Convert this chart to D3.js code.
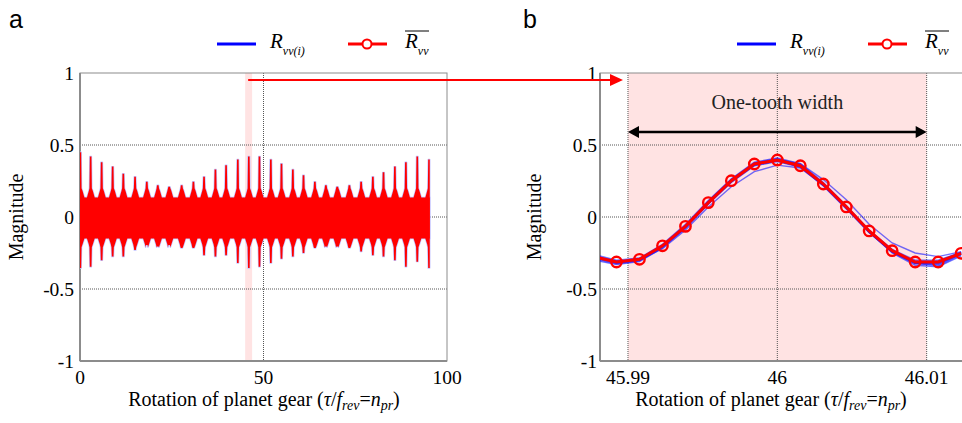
<!DOCTYPE html>
<html>
<head>
<meta charset="utf-8">
<script src="https://cdn.jsdelivr.net/npm/d3@7"></script>
<style>
  body { margin: 0; background: #fff; }
  svg { display: block; }
  text { font-family: "Liberation Serif", "Times New Roman", serif; fill: #000; }
</style>
</head>
<body>
<div id="chart"></div>
<script>
// ---- data ----
// panel a: tooth-mesh spikes of the averaged signal
const spikeX = [0.1, 2.9, 5.9, 8.9, 11.8, 15.0, 18.2, 21.2, 24.3, 27.7, 30.9, 33.8, 36.9, 39.8, 43.0, 46.0,
  48.9, 52.0, 54.9, 58.0, 60.9, 64.0, 67.0, 70.1, 73.4, 76.6, 79.8, 82.7, 85.8, 88.8, 91.9, 95.1];
const spikeTop = [0.45, 0.42, 0.38, 0.35, 0.30, 0.28, 0.245, 0.22, 0.21, 0.22, 0.245, 0.28, 0.33, 0.36, 0.40, 0.42,
  0.42, 0.40, 0.37, 0.33, 0.29, 0.245, 0.22, 0.21, 0.22, 0.245, 0.28, 0.31, 0.35, 0.38, 0.42, 0.40];
const spikeBottom = [-0.355, -0.345, -0.30, -0.275, -0.275, -0.23, -0.195, -0.205, -0.195, -0.215, -0.215, -0.265, -0.275, -0.265, -0.32, -0.355,
  -0.345, -0.32, -0.29, -0.275, -0.25, -0.215, -0.205, -0.205, -0.215, -0.24, -0.265, -0.275, -0.30, -0.345, -0.31, -0.355];
const bandRange = [0, 95.3];     // extent of the dense oscillation
const bandLevels = [0.135, -0.15]; // upper / lower level of the dense band
const humpLevels = [0.18, -0.19];  // shoulder around each spike
const highlightA = [45, 46.9];    // pink strip in panel a

// panel b: one tooth, samples around rotation 46
const sampleX = [45.98770, 45.98923, 45.99077, 45.99231, 45.99385, 45.99538, 45.99692, 45.99846, 46.00000,
  46.00154, 46.00308, 46.00462, 46.00615, 46.00769, 46.00923, 46.01077, 46.01231];
const meanR = [-0.275, -0.3125, -0.294, -0.20, -0.065, 0.10, 0.252, 0.368, 0.396, 0.356, 0.229, 0.07, -0.097, -0.234, -0.3125, -0.3125, -0.252];
const indivR = [
  [-0.26, -0.30, -0.285, -0.19, -0.05, 0.115, 0.265, 0.38, 0.41, 0.37, 0.24, 0.08, -0.09, -0.225, -0.30, -0.30, -0.245],
  [-0.29, -0.325, -0.305, -0.21, -0.08, 0.09, 0.24, 0.355, 0.385, 0.345, 0.215, 0.055, -0.11, -0.245, -0.325, -0.325, -0.26],
  [-0.28, -0.315, -0.29, -0.195, -0.06, 0.105, 0.255, 0.37, 0.40, 0.36, 0.235, 0.075, -0.10, -0.24, -0.32, -0.33, -0.255],
  [-0.27, -0.305, -0.30, -0.22, -0.09, 0.07, 0.21, 0.315, 0.36, 0.34, 0.22, 0.065, -0.105, -0.24, -0.32, -0.32, -0.25],
  [-0.285, -0.31, -0.29, -0.20, -0.07, 0.095, 0.25, 0.365, 0.40, 0.37, 0.26, 0.12, -0.05, -0.18, -0.25, -0.275, -0.24],
  [-0.265, -0.32, -0.30, -0.205, -0.07, 0.10, 0.245, 0.36, 0.39, 0.35, 0.22, 0.06, -0.105, -0.25, -0.335, -0.345, -0.27],
  [-0.30, -0.33, -0.31, -0.215, -0.075, 0.09, 0.245, 0.36, 0.39, 0.35, 0.225, 0.065, -0.10, -0.235, -0.315, -0.31, -0.245],
  [-0.27, -0.31, -0.295, -0.205, -0.07, 0.105, 0.26, 0.375, 0.405, 0.36, 0.23, 0.07, -0.095, -0.23, -0.31, -0.315, -0.25],
  [-0.285, -0.32, -0.30, -0.20, -0.06, 0.11, 0.26, 0.372, 0.398, 0.352, 0.222, 0.062, -0.105, -0.242, -0.322, -0.338, -0.262]
];
const toothSpan = [45.99, 46.01];

// ticks
const yTicks = [1, 0.5, 0, -0.5, -1];
const yGrid = [0.5, 0, -0.5];
const xTicksA = [0, 50, 100];
const xGridA = [50];
const xTicksB = [45.99, 46, 46.01];

const W = 962, H = 423;
const svg = d3.select("#chart").append("svg").attr("width", W).attr("height", H);

const defs = svg.append("defs");
defs.append("clipPath").attr("id", "clipA").append("rect").attr("x", 80).attr("y", 73).attr("width", 367).attr("height", 288);
defs.append("clipPath").attr("id", "clipB").append("rect").attr("x", 600).attr("y", 73).attr("width", 370).attr("height", 288);

const yScale = d3.scaleLinear().domain([-1, 1]).range([361, 73]);
const xA = d3.scaleLinear().domain([0, 100]).range([80, 447]);
const xB = d3.scaleLinear().domain([45.99 - 28 / 14950, 46.0125]).range([600, 964]);

// common frame, grid and tick labels
function drawFrame(x, xTicks, xGrid, xFmt, ySide, shading) {
    const g = svg.append("g");
    const [x0, x1] = x.range();
    if (shading) {
        g.append("rect").attr("x", x(shading[0])).attr("y", 73)
            .attr("width", x(shading[1]) - x(shading[0])).attr("height", 288)
            .attr("fill", "#ffe3e3");
    }
    yGrid.forEach(v => g.append("line")
        .attr("x1", x0).attr("x2", x1).attr("y1", yScale(v)).attr("y2", yScale(v))
        .attr("stroke", "#555").attr("stroke-width", 1).attr("stroke-dasharray", "1,1"));
    xGrid.forEach(v => g.append("line")
        .attr("x1", x(v)).attr("x2", x(v)).attr("y1", 73).attr("y2", 361)
        .attr("stroke", "#555").attr("stroke-width", 1).attr("stroke-dasharray", "1,1"));
    g.append("rect").attr("x", x0).attr("y", 73).attr("width", x1 - x0).attr("height", 288)
        .attr("fill", "none").attr("stroke", "#8c8c8c").attr("stroke-width", 1);
    g.append("line").attr("x1", x0).attr("x2", x0).attr("y1", 73).attr("y2", 361)
        .attr("stroke", "#8c8c8c").attr("stroke-width", 2);
    g.append("line").attr("x1", x0).attr("x2", x1).attr("y1", 361).attr("y2", 361)
        .attr("stroke", "#8c8c8c").attr("stroke-width", 2);

    yTicks.forEach(v => g.append("text")
        .attr("x", ySide).attr("y", yScale(v)).attr("dy", "0.35em")
        .attr("text-anchor", "end").style("font-size", "19.5px").text(v));
    xTicks.forEach(v => g.append("text")
        .attr("x", x(v)).attr("y", 384)
        .attr("text-anchor", "middle").style("font-size", "19.5px").text(xFmt(v)));
    return g;
}

function axisTitles(cx, labelX) {
    const t = svg.append("text").attr("x", cx).attr("y", 406)
        .attr("text-anchor", "middle").style("font-size", "20px");
    t.append("tspan").text("Rotation of planet gear (");
    t.append("tspan").style("font-style", "italic").text("τ");
    t.append("tspan").text("/");
    t.append("tspan").style("font-style", "italic").text("f");
    t.append("tspan").style("font-style", "italic").style("font-size", "14px").attr("dy", 4).text("rev");
    t.append("tspan").attr("dy", -4).text("=");
    t.append("tspan").style("font-style", "italic").text("n");
    t.append("tspan").style("font-style", "italic").style("font-size", "14px").attr("dy", 4).text("pr");
    t.append("tspan").attr("dy", -4).text(")");

    svg.append("text").attr("transform", `translate(${labelX},217) rotate(-90)`)
        .attr("text-anchor", "middle").style("font-size", "20px").text("Magnitude");
}

function legend(x) {
    const g = svg.append("g").attr("transform", `translate(${x},0)`);
    g.append("line").attr("x1", 0).attr("x2", 39).attr("y1", 44).attr("y2", 44)
        .attr("stroke", "#0000ff").attr("stroke-width", 3);
    const t1 = g.append("text").attr("x", 53).attr("y", 48).style("font-style", "italic").style("font-size", "21px");
    t1.append("tspan").text("R");
    t1.append("tspan").attr("dy", 7).style("font-size", "12px").text("vv(i)");

    g.append("line").attr("x1", 131).attr("x2", 170).attr("y1", 44).attr("y2", 44)
        .attr("stroke", "#ff0000").attr("stroke-width", 3);
    g.append("circle").attr("cx", 150).attr("cy", 44).attr("r", 4.5)
        .attr("fill", "#fff").attr("stroke", "#ff0000").attr("stroke-width", 2);
    const t2 = g.append("text").attr("x", 188).attr("y", 48).style("font-style", "italic").style("font-size", "21px");
    t2.append("tspan").text("R");
    t2.append("tspan").attr("dy", 7).style("font-size", "12px").text("vv");
    g.append("line").attr("x1", 188).attr("x2", 212).attr("y1", 31).attr("y2", 31)
        .attr("stroke", "#000").attr("stroke-width", 1);
}

// ---- panel a ----
drawFrame(xA, xTicksA, xGridA, d => d, 74, highlightA);
axisTitles(264, 23);
legend(217);
svg.append("text").attr("x", 9).attr("y", 28).style("font-family", "Liberation Sans, Arial, sans-serif")
    .style("font-size", "25px").text("a");

const sigLine = d3.line().x(d => xA(d[0])).y(d => yScale(d[1]));
function spikeShape(i) {
    const x = spikeX[i];
    const up = Math.min(humpLevels[0], spikeTop[i]);
    const lo = Math.max(humpLevels[1], spikeBottom[i]);
    return [
        [x - 1.0, bandLevels[0]], [x - 0.5, up], [x - 0.32, up + 0.02], [x - 0.22, spikeTop[i]], [x + 0.22, spikeTop[i]],
        [x + 0.32, up + 0.02], [x + 0.6, up], [x + 1.1, bandLevels[0]],
        [x + 1.1, bandLevels[1]], [x + 0.6, lo], [x + 0.32, lo - 0.02],
        [x + 0.22, spikeBottom[i]], [x - 0.22, spikeBottom[i]], [x - 0.32, lo - 0.02], [x - 0.5, lo], [x - 1.0, bandLevels[1]]
    ].map(p => [Math.max(bandRange[0], Math.min(bandRange[1], p[0])), p[1]]);
}
const band = [[bandRange[0], bandLevels[0]], [bandRange[1], bandLevels[0]], [bandRange[1], bandLevels[1]], [bandRange[0], bandLevels[1]]];
const sigA = svg.append("g").attr("clip-path", "url(#clipA)");
// light blue halo of the individual records, then the red mean on top
[["#c2c2ff", 1.4], ["#ff0000", 0]].forEach(([c, sw]) => {
    const g = sigA.append("g");
    g.append("path").attr("d", sigLine(band) + "Z").attr("fill", c).attr("stroke", c).attr("stroke-width", sw);
    spikeX.forEach((_, i) => g.append("path").attr("d", sigLine(spikeShape(i)) + "Z")
        .attr("fill", c).attr("stroke", c).attr("stroke-width", sw).attr("stroke-linejoin", "round"));
});

// ---- panel b ----
drawFrame(xB, xTicksB, xTicksB, d => d, 597, toothSpan);
axisTitles(771, 541);
legend(737);
svg.append("text").attr("x", 523).attr("y", 28).style("font-family", "Liberation Sans, Arial, sans-serif")
    .style("font-size", "25px").text("b");

const lineB = d3.line().x((d, i) => xB(sampleX[i])).y(d => yScale(d));
const plotB = svg.append("g").attr("clip-path", "url(#clipB)");
indivR.forEach(s => plotB.append("path").attr("d", lineB(s))
    .attr("fill", "none").attr("stroke", "#1010ff").attr("stroke-width", 1.4).attr("stroke-opacity", 0.6));
plotB.append("path").attr("d", lineB(meanR))
    .attr("fill", "none").attr("stroke", "#ff0000").attr("stroke-width", 3);
plotB.selectAll("circle.mean").data(meanR).enter().append("circle")
    .attr("class", "mean")
    .attr("cx", (d, i) => xB(sampleX[i])).attr("cy", d => yScale(d)).attr("r", 5.2)
    .attr("fill", "none").attr("stroke", "#ff0000").attr("stroke-width", 2.4);

// one-tooth width annotation
const arrowY = 132;
svg.append("line").attr("x1", xB(toothSpan[0]) + 8).attr("x2", xB(toothSpan[1]) - 8)
    .attr("y1", arrowY).attr("y2", arrowY).attr("stroke", "#000").attr("stroke-width", 2.5);
svg.append("path").attr("d", `M${xB(toothSpan[0])},${arrowY}l11,-6v12z`).attr("fill", "#000");
svg.append("path").attr("d", `M${xB(toothSpan[1])},${arrowY}l-11,-6v12z`).attr("fill", "#000");
svg.append("text").attr("x", xB(46)).attr("y", 109).attr("text-anchor", "middle")
    .style("font-size", "20px").style("fill", "#222").text("One-tooth width");

// zoom arrow from panel a to panel b
svg.append("line").attr("x1", xA(highlightA[0]) + 3).attr("x2", 612).attr("y1", 80).attr("y2", 80)
    .attr("stroke", "#ff0000").attr("stroke-width", 2);
svg.append("path").attr("d", "M623,80l-13,-6v12z").attr("fill", "#ff0000");
</script>
</body>
</html>
